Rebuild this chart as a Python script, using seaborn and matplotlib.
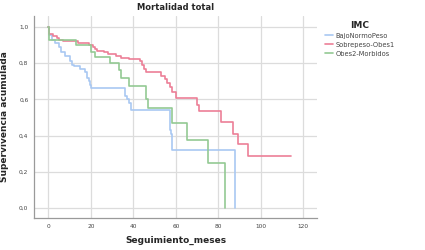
import matplotlib
matplotlib.use("Agg")
import matplotlib.pyplot as plt
from matplotlib.ticker import FuncFormatter
import pandas as pd
import seaborn as sns

# Kaplan-Meier steps (month, cumulative survival)
groups = ["BajoNormoPeso", "Sobrepeso-Obes1", "Obes2-Morbidos"]
colors = ["#a9c8f2", "#ec7f97", "#93c993"]

bajo_t = [0, 0.3, 1.5, 3, 5, 6, 8, 10, 11, 12, 15, 17, 18, 19, 19.5, 20, 36, 37, 38, 39, 40, 57, 57.5, 58, 88, 88]
bajo_s = [1.0, 0.955, 0.93, 0.91, 0.89, 0.86, 0.84, 0.81, 0.79, 0.785, 0.77, 0.75, 0.72, 0.70, 0.68, 0.664, 0.62, 0.60, 0.58, 0.54, 0.54, 0.43, 0.41, 0.323, 0.0, 0.0]

sobre_t = [0, 0.3, 2, 4, 5, 7, 14, 19, 21, 22, 23, 26, 28, 32, 34, 38, 43, 44, 45, 46, 53, 55, 56, 57, 58, 60,
           70, 71, 81, 87, 89, 94, 114]
sobre_s = [1.0, 0.96, 0.95, 0.94, 0.93, 0.92, 0.91, 0.90, 0.89, 0.88, 0.865, 0.86, 0.85, 0.84, 0.83, 0.82, 0.81,
           0.79, 0.77, 0.75, 0.73, 0.71, 0.69, 0.67, 0.64, 0.61, 0.57, 0.537, 0.476, 0.41, 0.356, 0.288, 0.288]

obes_t = [0, 0.3, 13, 20, 22, 29, 33, 34, 38, 46, 47, 58, 65, 75, 83, 83]
obes_s = [1.0, 0.925, 0.90, 0.86, 0.836, 0.80, 0.76, 0.72, 0.673, 0.60, 0.55, 0.472, 0.378, 0.25, 0.0, 0.0]

rows = []
for g, t, s in [(groups[0], bajo_t, bajo_s), (groups[1], sobre_t, sobre_s), (groups[2], obes_t, obes_s)]:
    for ti, si in zip(t, s):
        rows.append({"Seguimiento_meses": ti, "Supervivencia": si, "IMC": g})
df = pd.DataFrame(rows)

sns.set_style("white")
fig = plt.figure(figsize=(4.25, 2.5), dpi=100)
ax = fig.add_axes([0.08, 0.128, 0.666, 0.808])

sns.lineplot(data=df, x="Seguimiento_meses", y="Supervivencia", hue="IMC",
             hue_order=groups, palette=colors, drawstyle="steps-post",
             estimator=None, sort=False, linewidth=1.2, ax=ax)

ax.set_xlim(-6.8, 126.4)
ax.set_ylim(-0.055, 1.06)
ax.set_xticks([0, 20, 40, 60, 80, 100, 120])
ax.set_yticks([0.0, 0.2, 0.4, 0.6, 0.8, 1.0])
ax.yaxis.set_major_formatter(FuncFormatter(lambda v, p: "{:.1f}".format(v).replace(".", ",")))
ax.grid(True, color="#dcdcdc", linewidth=0.9)
ax.set_axisbelow(True)
ax.tick_params(axis="both", labelsize=4.2, colors="#666666", length=2, width=0.5, pad=2)
ax.tick_params(axis="both", labelcolor="#444444")

for side in ["top", "right"]:
    ax.spines[side].set_visible(False)
for side in ["left", "bottom"]:
    ax.spines[side].set_color("#9a9a9a")
    ax.spines[side].set_linewidth(0.9)

ax.set_xlabel("Seguimiento_meses", fontsize=6.5, fontweight="bold", labelpad=5)
ax.set_ylabel("Supervivencia acumulada", fontsize=6.5, fontweight="bold", labelpad=7)
ax.set_title("Mortalidad total", fontsize=6, fontweight="bold", pad=4)

leg = ax.legend(title="IMC", loc="upper left", bbox_to_anchor=(1.01, 1.0), frameon=False,
                fontsize=4.8, title_fontsize=6.5, handlelength=1.3, handletextpad=0.3,
                labelspacing=0.45, borderaxespad=0.3)
leg.get_title().set_fontweight("bold")
for t in leg.get_texts():
    t.set_color("#444444")

plt.savefig("out.png", dpi=100)
